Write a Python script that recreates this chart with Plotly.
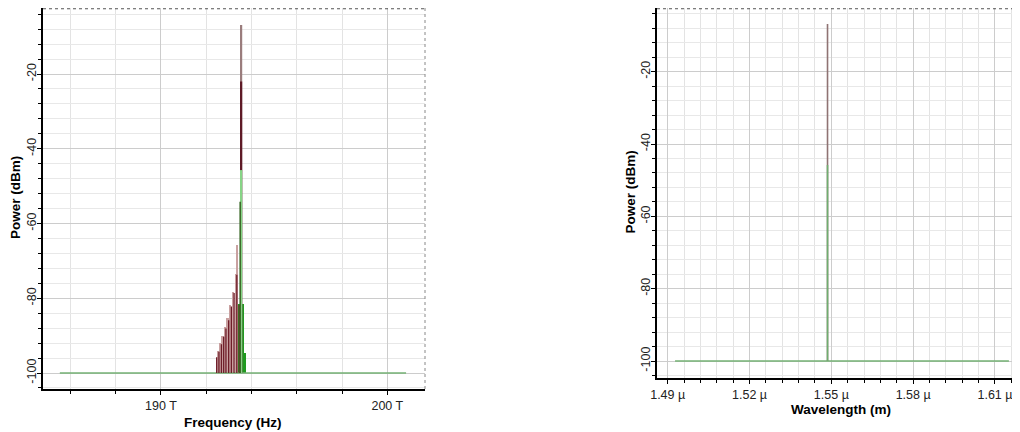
import plotly.graph_objects as go

# ---------------- data ----------------
FLOOR = -100.0

# Left panel: spectrum vs frequency (THz)
base_freq = [185.53, 200.83]
base_pow = [-100.0, -100.0]

# rosy "fill" columns (end at the listed frequency)
rosy_freq = [192.56, 192.67, 192.77, 192.87, 192.99, 193.11, 193.23, 193.35, 193.42]
rosy_pow = [-94.0, -92.0, -90.0, -87.8, -85.3, -81.8, -78.4, -73.5, -65.8]

# dark red tone lines
dark_freq = [192.46, 192.56, 192.67, 192.77, 192.87, 192.99, 193.11, 193.23, 193.35, 193.46]
dark_pow = [-95.8, -94.3, -92.3, -90.3, -88.1, -85.9, -82.2, -78.6, -73.7, -81.8]

# main carrier (THz) and the power levels of the overlapping traces
main_freq = 193.54
main_top = -6.9      # grey-brown trace
main_dark = -22.0    # dark red trace
main_green = -45.7   # light green trace
side_green_freq = 193.50
side_green_pow = -54.2

# green block (center, power, width in THz)
gblock_freq = [193.535, 193.70]
gblock_pow = [-81.5, -94.7]
gblock_width = [0.25, 0.08]

# Right panel: spectrum vs wavelength (um)
base_wl = [1.4927, 1.6151]
peak_wl = 1.5486
peak_top = -6.8
peak_green = -45.8

# tick labels
freq_tickvals = [190, 200]
freq_ticktext = ["190 T", "200 T"]
wl_tickvals = [1.49, 1.52, 1.55, 1.58, 1.61]
wl_ticktext = ["1.49 \u00b5", "1.52 \u00b5", "1.55 \u00b5", "1.58 \u00b5", "1.61 \u00b5"]
pow_tickvals = [-20, -40, -60, -80, -100]
pow_ticktext = ["-20", "-40", "-60", "-80", "-100"]

# ---------------- helpers ----------------
def stems(xs, ys, floor=FLOOR):
    sx, sy = [], []
    for x, y in zip(xs, ys):
        sx += [x, x, None]
        sy += [floor, y, None]
    return sx, sy

OFF = 8  # page body margin
W, H = 1020 - OFF, 432 - OFF
def px_x(p):
    return min(1.0, max(0.0, (p - OFF) / W))
def px_y(p):
    return min(1.0, max(0.0, 1 - (p - OFF) / H))

FONT = "Liberation Sans, Arial, sans-serif"
GREEN_BASE = "#74b274"

fig = go.Figure()

# ---- left panel traces ----
fig.add_trace(go.Scatter(x=base_freq, y=base_pow, mode="lines",
                         line=dict(color=GREEN_BASE, width=1.6),
                         xaxis="x", yaxis="y", hoverinfo="skip"))
fig.add_trace(go.Bar(x=rosy_freq, y=[p - FLOOR for p in rosy_pow], base=FLOOR,
                     width=0.1, offset=-0.1, marker=dict(color="#c9a1a1", line=dict(width=0)),
                     xaxis="x", yaxis="y", hoverinfo="skip"))
sx, sy = stems(dark_freq, dark_pow)
fig.add_trace(go.Scatter(x=sx, y=sy, mode="lines", line=dict(color="#6e1c28", width=1.3),
                         xaxis="x", yaxis="y", hoverinfo="skip"))
fig.add_trace(go.Bar(x=gblock_freq, y=[p - FLOOR for p in gblock_pow], base=FLOOR,
                     width=gblock_width, marker=dict(color="#1f9a1f", line=dict(width=0)),
                     xaxis="x", yaxis="y", hoverinfo="skip"))
for y_top, col, w, xf in [(main_top, "#9a7c7c", 2.2, main_freq),
                          (main_dark, "#5e1a26", 2.2, main_freq),
                          (main_green, "#86d486", 2.2, main_freq),
                          (side_green_pow, "#3d6b2a", 1.6, side_green_freq)]:
    sx, sy = stems([xf], [y_top])
    fig.add_trace(go.Scatter(x=sx, y=sy, mode="lines", line=dict(color=col, width=w),
                             xaxis="x", yaxis="y", hoverinfo="skip"))

# ---- right panel traces ----
fig.add_trace(go.Scatter(x=base_wl, y=[FLOOR, FLOOR], mode="lines",
                         line=dict(color=GREEN_BASE, width=1.6),
                         xaxis="x2", yaxis="y2", hoverinfo="skip"))
for y_top, col in [(peak_top, "#8f7373"), (peak_green, "#6fae6f")]:
    sx, sy = stems([peak_wl], [y_top])
    fig.add_trace(go.Scatter(x=sx, y=sy, mode="lines", line=dict(color=col, width=1.6),
                             xaxis="x2", yaxis="y2", hoverinfo="skip"))

# ---------------- axes ----------------
tickfont = dict(family=FONT, size=12.5, color="#222222")
common_x = dict(showline=True, linecolor="black", linewidth=2, ticks="outside",
                ticklen=4, tickcolor="black", tickwidth=1, tickfont=tickfont,
                showgrid=True, gridcolor="#cccccc", gridwidth=1, zeroline=False,
                automargin=False, fixedrange=True)
common_y = dict(showline=True, linecolor="black", linewidth=2, ticks="outside",
                ticklen=4, tickcolor="black", tickwidth=1, tickfont=tickfont,
                showgrid=True, gridcolor="#cccccc", gridwidth=1, zeroline=False,
                automargin=False, fixedrange=True, tickangle=-90,
                ticklabelstandoff=-4,
                tickvals=pow_tickvals, ticktext=pow_ticktext,
                minor=dict(dtick=4, tick0=0, showgrid=True, gridcolor="#e8e8e8",
                           ticks="outside", ticklen=3, tickcolor="black"))

fig.update_layout(
    width=W, height=H,
    margin=dict(l=0, r=0, t=0, b=0),
    paper_bgcolor="white", plot_bgcolor="white",
    showlegend=False, barmode="overlay", bargap=0,
    xaxis=dict(common_x, domain=[px_x(43), px_x(425)], range=[184.786, 201.666],
               tickvals=freq_tickvals, ticktext=freq_ticktext, anchor="y",
               minor=dict(dtick=2, tick0=0, showgrid=True, gridcolor="#e3e3e3",
                          ticks="outside", ticklen=3, tickcolor="black")),
    yaxis=dict(common_y, domain=[px_y(389), px_y(8)], range=[-104.28, -2.34], anchor="x"),
    xaxis2=dict(common_x, domain=[px_x(657), 1.0], range=[1.48608, 1.61917],
                tickvals=wl_tickvals, ticktext=wl_ticktext, anchor="y2",
                minor=dict(dtick=0.006, tick0=1.49, showgrid=True, gridcolor="#e3e3e3",
                           ticks="outside", ticklen=3, tickcolor="black")),
    yaxis2=dict(common_y, domain=[px_y(378), px_y(8)], range=[-104.7, -2.39], anchor="x2"),
)

# dotted top / right borders
for xr, yr in [("x domain", "y domain"), ("x2 domain", "y2 domain")]:
    fig.add_shape(type="line", xref=xr, yref=yr, x0=0, x1=1, y0=0.998, y1=0.998,
                  line=dict(color="#555555", width=1, dash="dot"))
fig.add_shape(type="line", xref="x domain", yref="y domain", x0=1, x1=1, y0=0, y1=1,
              line=dict(color="#888888", width=1, dash="dot"))

# axis titles
tfont = dict(family=FONT, size=13.5, color="black")
for text, x, y, ang in [("<b>Power (dBm)</b>", 15, 198, -90),
                        ("<b>Frequency (Hz)</b>", 233, 422.5, 0),
                        ("<b>Power (dBm)</b>", 630, 192.5, -90),
                        ("<b>Wavelength (m)</b>", 841, 409.5, 0)]:
    fig.add_annotation(text=text, xref="paper", yref="paper", x=px_x(x), y=px_y(y),
                       xanchor="center", yanchor="middle", showarrow=False,
                       textangle=ang, font=tfont)

fig.write_html("out.html")
